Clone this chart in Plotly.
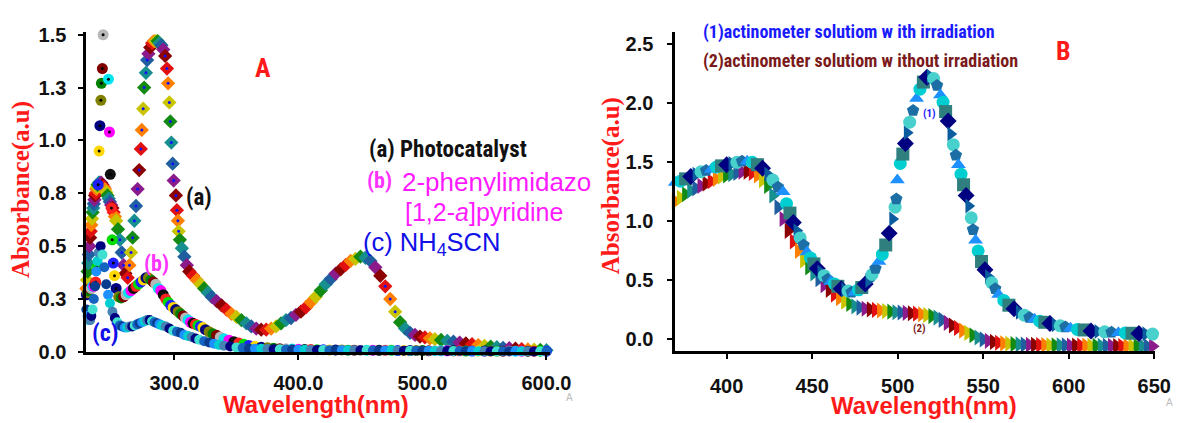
import plotly.graph_objects as go

# ---------------- Panel A data (wavelength nm, absorbance) ----------------
a_nm = [229, 229.5, 230, 230.5, 231, 231.5, 232, 232.5, 233, 233.5, 234, 234.5, 235, 235.5, 236, 236.5,
        237, 237.5, 238, 239, 240, 241, 242, 243, 244, 245, 246, 247, 248, 249, 250, 251, 252, 253,
        254.5, 256, 257.5, 259, 260.5,
        262.3, 263.7, 265, 266.3, 267.7, 269, 270.3, 271.6, 272.9, 273.7, 274.8, 275.6, 277, 278, 279,
        280.5, 282, 283.5, 285, 286.5, 288, 289.5, 291,
        292.5, 294, 294.9, 295.9, 296.7, 297.5, 298.6, 299.4, 301.2, 302, 302.8, 303.4, 304.4, 306,
        308, 310, 312, 315, 318, 321, 324, 327, 330, 334, 338, 342, 346, 350, 354, 358, 362, 366,
        370, 374, 378, 382, 386, 390, 394, 398, 402, 406, 410, 414, 418, 422, 426, 430, 434, 438,
        442, 446, 450, 454, 458, 462, 466, 470, 474, 478, 482, 486, 490, 494, 498, 502, 506, 510,
        515, 520, 525, 530, 535, 540, 545, 550, 555, 560, 565, 570, 575, 580, 585, 590, 595, 600]
a_abs = [0.30, 0.34, 0.38, 0.42, 0.46, 0.50, 0.54, 0.57, 0.60, 0.63, 0.66, 0.68, 0.70, 0.72, 0.74, 0.75,
         0.77, 0.78, 0.79, 0.80, 0.80, 0.80, 0.79, 0.78, 0.77, 0.755, 0.74, 0.725, 0.71, 0.695, 0.68, 0.66, 0.64, 0.62,
         0.58, 0.53, 0.47, 0.41, 0.37,
         0.35, 0.41, 0.47, 0.54, 0.62, 0.69, 0.77, 0.86, 0.96, 1.05, 1.15, 1.25, 1.32, 1.38, 1.41,
         1.44, 1.46, 1.47, 1.47, 1.47, 1.46, 1.45, 1.43,
         1.40, 1.34, 1.27, 1.18, 1.09, 0.99, 0.89, 0.81, 0.74, 0.67, 0.62, 0.57, 0.53, 0.49,
         0.45, 0.41, 0.38, 0.36, 0.34, 0.32, 0.30, 0.28, 0.26, 0.24, 0.22, 0.20, 0.18, 0.165, 0.15, 0.135, 0.12, 0.11,
         0.105, 0.105, 0.11, 0.12, 0.135, 0.15, 0.16, 0.175, 0.19, 0.21, 0.235, 0.26, 0.29, 0.32, 0.345, 0.37, 0.39, 0.41,
         0.43, 0.44, 0.45, 0.445, 0.43, 0.40, 0.36, 0.31, 0.25, 0.19, 0.14, 0.11, 0.09, 0.08, 0.072, 0.068, 0.064, 0.06,
         0.056, 0.052, 0.048, 0.044, 0.04, 0.036, 0.032, 0.028, 0.025, 0.022, 0.019, 0.017, 0.015, 0.013, 0.011, 0.01, 0.009, 0.008]

b_nm = [229, 230, 231, 232, 233, 234, 235, 236, 236.5, 237.5, 238.5, 239.3, 239.9, 240.7, 241.1, 241.9, 242.5,
        246.8, 247.6, 248.3, 249.2, 249.8, 250.7, 251.7, 253, 255, 257, 259, 261, 263, 265, 267, 269,
        271, 273, 275, 277, 279, 281, 283, 285, 287, 289, 291, 293, 295, 297, 299, 301, 303, 305, 307,
        309, 311, 313, 315, 317, 319, 321, 323, 325, 328, 331, 334, 337, 340, 344, 348, 352, 356,
        360, 365, 370, 375, 380, 385, 390, 395, 400, 405, 410, 415, 420, 425, 430, 435, 440, 445,
        450, 455, 460, 465, 470, 475, 480, 485, 490, 495, 500, 505, 510, 515, 520, 525, 530, 535,
        540, 545, 550, 555, 560, 565, 570, 575, 580, 585, 590, 595, 600]
b_abs = [0.27, 0.28, 0.29, 0.30, 0.30, 0.31, 0.31, 0.32, 0.33, 0.40, 0.79, 0.95, 1.07, 1.19, 1.27, 1.34, 1.50,
         1.29, 1.04, 0.84, 0.68, 0.53, 0.42, 0.36, 0.30, 0.26, 0.255, 0.26, 0.27, 0.28, 0.29, 0.30, 0.31,
         0.32, 0.33, 0.34, 0.35, 0.35, 0.34, 0.33, 0.32, 0.30, 0.29, 0.27, 0.25, 0.235, 0.22, 0.21, 0.20, 0.19, 0.18, 0.17,
         0.16, 0.15, 0.14, 0.135, 0.13, 0.125, 0.12, 0.115, 0.105, 0.095, 0.085, 0.078, 0.07, 0.062, 0.055, 0.048, 0.042, 0.036,
         0.03, 0.026, 0.022, 0.019, 0.017, 0.015, 0.014, 0.013, 0.012, 0.011, 0.011, 0.010, 0.010, 0.009, 0.009, 0.009, 0.008, 0.008,
         0.008, 0.008, 0.007, 0.007, 0.007, 0.007, 0.006, 0.006, 0.006, 0.006, 0.006, 0.005, 0.005, 0.005, 0.005, 0.005, 0.005, 0.004,
         0.004, 0.004, 0.004, 0.004, 0.004, 0.003, 0.003, 0.003, 0.003, 0.003, 0.003, 0.003, 0.003]

c_nm = [229, 230, 231, 232, 233, 234, 235, 236, 237, 238, 239, 240.5, 242, 243.5, 245, 246.5, 248, 250, 252, 254, 256, 258,
        260, 262, 264, 266, 268, 270, 272, 274, 276, 278, 280, 282, 284, 286, 288, 290, 293, 296, 299,
        302, 305, 308, 311, 314, 317, 320, 324, 328, 332, 336, 340, 345, 350, 355, 360, 365, 370, 375,
        380, 385, 390, 395, 400, 405, 410, 415, 420, 425, 430, 435, 440, 445, 450, 455, 460, 465, 470,
        475, 480, 485, 490, 495, 500, 505, 510, 515, 520, 525, 530, 535, 540, 545, 550, 555, 560, 565,
        570, 575, 580, 585, 590, 595, 600]
c_abs = [0.20, 0.17, 0.15, 0.15, 0.17, 0.20, 0.25, 0.31, 0.38, 0.43, 0.47, 0.50, 0.46, 0.40, 0.32, 0.27, 0.23, 0.19, 0.16, 0.14, 0.125, 0.12,
         0.115, 0.115, 0.12, 0.12, 0.125, 0.13, 0.135, 0.14, 0.145, 0.15, 0.15, 0.145, 0.14, 0.135, 0.13, 0.125, 0.12, 0.11, 0.10,
         0.095, 0.09, 0.08, 0.075, 0.07, 0.063, 0.057, 0.05, 0.044, 0.038, 0.033, 0.029, 0.025, 0.021, 0.018, 0.016, 0.015, 0.014, 0.013,
         0.012, 0.012, 0.011, 0.011, 0.010, 0.010, 0.009, 0.009, 0.009, 0.008, 0.008, 0.008, 0.007, 0.007, 0.007, 0.007, 0.006, 0.006, 0.006,
         0.006, 0.005, 0.005, 0.005, 0.005, 0.005, 0.005, 0.004, 0.004, 0.004, 0.004, 0.004, 0.004, 0.004, 0.003, 0.003, 0.003, 0.003, 0.003,
         0.003, 0.003, 0.003, 0.003, 0.002, 0.002, 0.002]

a_ticks = [300, 400, 500, 600]
a_tick_text = ["300.0", "400.0", "500.0", "600.0"]
a_yticks = [0, 0.25, 0.5, 0.75, 1.0, 1.25, 1.5]
a_ytick_text = ["0.0", "0.3", "0.5", "0.8", "1.0", "1.3", "1.5"]

# ---------------- Panel B data ----------------
irr_nm = [370, 373, 376, 379, 382, 385, 388, 391, 394, 397, 400, 403, 406, 409, 412, 415, 418, 421, 424, 427,
          430, 433, 435, 437, 439, 441, 443, 445, 447, 449, 451, 453, 455, 457, 459, 461, 463, 465, 467, 469,
          471, 473, 475, 477, 479, 481, 483, 485, 487, 489, 491, 493, 495, 497, 498.5, 499.2, 499.8, 501.5,
          503, 504.5, 505.5, 507, 509, 511, 513, 515, 517, 519, 521, 523, 525, 526.5, 528, 529.5, 531, 532.5,
          534, 535.5, 537, 538.5, 540, 541.5, 543, 544, 545.5, 547, 549, 551, 553, 555, 557, 559, 562, 565,
          568, 571, 574, 577, 580, 583, 586, 589, 592, 595, 598, 601, 605, 609, 613, 617, 621, 625, 629, 633,
          637, 641, 645, 649, 651]
irr_abs = [1.33, 1.34, 1.36, 1.38, 1.40, 1.42, 1.43, 1.44, 1.46, 1.47, 1.48, 1.49, 1.50, 1.51, 1.51, 1.50, 1.48, 1.45, 1.40, 1.35,
           1.29, 1.25, 1.15, 1.07, 0.99, 0.92, 0.86, 0.80, 0.74, 0.69, 0.64, 0.60, 0.57, 0.54, 0.51, 0.49, 0.47, 0.45, 0.43, 0.42,
           0.41, 0.40, 0.40, 0.42, 0.44, 0.47, 0.50, 0.55, 0.60, 0.66, 0.72, 0.80, 0.90, 1.02, 1.12, 1.19, 1.35, 1.49,
           1.57, 1.66, 1.75, 1.84, 1.94, 2.04, 2.12, 2.18, 2.22, 2.23, 2.21, 2.15, 2.07, 2.01, 1.93, 1.85, 1.74, 1.65,
           1.56, 1.48, 1.40, 1.31, 1.22, 1.13, 1.03, 0.93, 0.84, 0.75, 0.66, 0.59, 0.53, 0.48, 0.43, 0.38, 0.33, 0.29,
           0.26, 0.23, 0.205, 0.185, 0.17, 0.155, 0.145, 0.135, 0.125, 0.115, 0.105, 0.095, 0.085, 0.08, 0.072, 0.068, 0.064, 0.06, 0.057, 0.055,
           0.052, 0.05, 0.047, 0.045, 0.044]

dark_nm = [370, 373, 376, 379, 382, 385, 388, 391, 394, 397, 400, 403, 406, 409, 412, 415, 418, 421, 424, 427,
           430, 433, 436, 439, 442, 445, 448, 451, 454, 457, 460, 463, 466, 469, 472, 475, 478, 481, 484, 487,
           490, 493, 496, 499, 502, 505, 508, 511, 514, 517, 520, 523, 526, 529, 532, 535, 538, 541, 544, 547,
           550, 553, 556, 559, 562, 565, 568, 571, 574, 577, 580, 583, 586, 589, 592, 595, 598, 601, 604, 607,
           610, 613, 616, 619, 622, 625, 628, 631, 634, 637, 640, 643, 646, 649, 651]
dark_abs = [1.17, 1.20, 1.23, 1.26, 1.28, 1.30, 1.32, 1.34, 1.36, 1.38, 1.39, 1.40, 1.41, 1.42, 1.42, 1.41, 1.39, 1.35, 1.30, 1.22,
            1.12, 1.02, 0.92, 0.83, 0.75, 0.67, 0.61, 0.56, 0.51, 0.46, 0.42, 0.38, 0.35, 0.32, 0.30, 0.28, 0.27, 0.26, 0.255, 0.25,
            0.245, 0.24, 0.235, 0.23, 0.228, 0.225, 0.222, 0.218, 0.213, 0.207, 0.198, 0.185, 0.165, 0.14, 0.118, 0.097, 0.075, 0.055, 0.035, 0.016,
            0.0, -0.012, -0.021, -0.028, -0.033, -0.037, -0.040, -0.042, -0.044, -0.045, -0.046, -0.047, -0.048, -0.049, -0.05, -0.05, -0.051, -0.052, -0.052, -0.053,
            -0.053, -0.054, -0.054, -0.055, -0.055, -0.055, -0.056, -0.056, -0.056, -0.057, -0.057, -0.057, -0.058, -0.058, -0.058]

b_ticks = [400, 450, 500, 550, 600, 650]
b_yticks = [0.0, 0.5, 1.0, 1.5, 2.0, 2.5]
b_ytick_text = ["0.0", "0.5", "1.0", "1.5", "2.0", "2.5"]

# ---------------- styling ----------------
W, H = 1195, 423
def fx(p): return p / W
def fy(p): return 1 - p / H

RAINBOW = ["#FF7F00", "#C8C400", "#138A13", "#178F8F", "#1F5FA0", "#8B1A8B", "#8B0000", "#E01010"]
MIXED = ["#000080", "#808000", "#008000", "#800000", "#B8B8B8", "#00E5EE", "#FF00FF", "#111111",
         "#FF2020", "#00DD00", "#2020FF", "#FFD700"]
BLUES = ["#0A3D8F", "#1E90FF", "#00CED1", "#4682B4", "#000080", "#40E0D0", "#1565C0"]
IRR_COL = ["#1E90FF", "#00CED1", "#2F7F7F", "#000080", "#0A5C9E", "#48D1CC", "#1C6EA4"]
IRR_SYM = ["triangle-up", "circle", "square", "diamond", "triangle-right", "circle", "pentagon"]
RED = "#FF1A1A"
COND = "Roboto Condensed, Liberation Sans Narrow, DejaVu Sans Condensed, Arial Narrow, sans-serif"
SERIF = "Liberation Serif, Times New Roman, serif"
ARIAL = "Liberation Sans, Arial, sans-serif"


def cyc(pal, n):
    return [pal[i % len(pal)] for i in range(n)]


def steep(x, y, thr=0.05):
    xs, ys = [], []
    for i in range(len(y)):
        d1 = abs(y[i] - y[i - 1]) if i > 0 else 0
        d2 = abs(y[i + 1] - y[i]) if i < len(y) - 1 else 0
        if max(d1, d2) > thr:
            xs.append(x[i]); ys.append(y[i])
    return xs, ys


fig = go.Figure()

# Panel A
fig.add_trace(go.Scatter(x=a_nm, y=a_abs, mode="markers", xaxis="x", yaxis="y", cliponaxis=False,
                         marker=dict(symbol="diamond", size=11, color=cyc(RAINBOW, len(a_nm)), line=dict(width=0))))
ax_, ay_ = steep(a_nm, a_abs)
fig.add_trace(go.Scatter(x=ax_, y=ay_, mode="markers", xaxis="x", yaxis="y", cliponaxis=False,
                         marker=dict(symbol="circle", size=3, color="#1010FF")))
fig.add_trace(go.Scatter(x=b_nm, y=b_abs, mode="markers", xaxis="x", yaxis="y", cliponaxis=False,
                         marker=dict(symbol="circle", size=11, color=cyc(MIXED, len(b_nm)), line=dict(width=0))))
bx_, by_ = steep(b_nm, b_abs)
fig.add_trace(go.Scatter(x=bx_, y=by_, mode="markers", xaxis="x", yaxis="y", cliponaxis=False,
                         marker=dict(symbol="circle", size=3, color="#000000")))
fig.add_trace(go.Scatter(x=c_nm, y=c_abs, mode="markers", xaxis="x", yaxis="y", cliponaxis=False,
                         marker=dict(symbol="circle", size=10, color=cyc(BLUES, len(c_nm)), line=dict(width=0))))

# Panel B
fig.add_trace(go.Scatter(x=dark_nm, y=dark_abs, mode="markers", xaxis="x2", yaxis="y2", cliponaxis=False,
                         marker=dict(symbol="triangle-right", size=14, color=cyc(RAINBOW, len(dark_nm)), line=dict(width=0))))
fig.add_trace(go.Scatter(x=irr_nm, y=irr_abs, mode="markers", xaxis="x2", yaxis="y2", cliponaxis=False,
                         marker=dict(symbol=cyc(IRR_SYM, len(irr_nm)), size=13, color=cyc(IRR_COL, len(irr_nm)),
                                     line=dict(width=0))))

tickfont = dict(family=ARIAL, size=20, color="#111111", weight="bold")
axis_common = dict(showline=True, linewidth=3, linecolor="black", showgrid=False, zeroline=False,
                   ticks="outside", ticklen=5, tickwidth=1.5, tickcolor="black", tickfont=tickfont)

fig.update_layout(
    width=W, height=H, margin=dict(l=0, r=0, t=0, b=0),
    paper_bgcolor="white", plot_bgcolor="white", showlegend=False,
    xaxis=dict(domain=[fx(88), fx(560)], range=[229, 602.6], tickvals=a_ticks, ticktext=a_tick_text,
               anchor="y", ticklabelstandoff=6, **axis_common),
    yaxis=dict(domain=[fy(360), fy(25)], range=[0, 1.5136], tickvals=a_yticks, ticktext=a_ytick_text,
               anchor="x", ticklabelstandoff=8, **axis_common),
    xaxis2=dict(domain=[fx(688), fx(1177)], range=[370, 650.6], tickvals=b_ticks,
                anchor="y2", ticklabelstandoff=10, **axis_common),
    yaxis2=dict(domain=[fy(359), fy(25)], range=[-0.097, 2.605], tickvals=b_yticks, ticktext=b_ytick_text,
                anchor="x2", ticklabelstandoff=10, **axis_common),
)

ann = []
def txt(t, x, y, size, color, family=COND, xanchor="center", angle=0, weight="normal"):
    ann.append(dict(text=t, x=fx(x), y=fy(y), xref="paper", yref="paper", showarrow=False,
                    xanchor=xanchor, yanchor="middle", textangle=angle,
                    font=dict(family=family, size=size, color=color, weight=weight)))

# Panel A texts
txt("A", 268, 63, 26, RED, weight="bold")
txt("(a) Photocatalyst", 374, 148, 23, "#111111", xanchor="left", weight="bold")
txt("(b)", 372, 181, 22, "#FF33FF", xanchor="left", weight="bold")
txt("2-phenylimidazo", 408, 182, 26, "#FF1AFF", family=ARIAL, xanchor="left")
txt("[1,2-<i>a</i>]pyridine", 411, 214, 25, "#FF1AFF", family=ARIAL, xanchor="left")
txt("(c) NH<sub>4</sub>SCN", 368, 247, 25.5, "#1010E8", family=ARIAL, xanchor="left")
txt("(a)", 203, 198, 23, "#111111", weight="bold")
txt("(b)", 159, 268, 22, "#FF33FF", weight="bold")
txt("(c)", 107, 340, 24, "#1010E8", weight="bold")
txt("Absorbance(a.u)", 22, 190, 25, RED, family=SERIF, angle=-90, weight="bold")
txt("Wavelength(nm)", 322, 415, 24, RED, family=ARIAL, weight="bold")
txt("A", 580, 408, 10, "#BBBBBB", family=ARIAL)
# Panel B texts
txt("(1)actinometer solutiom w ith irradiation", 714, 25, 18, "#1A1AFF", xanchor="left", weight="bold")
txt("(2)actinometer solutiom w ithout irradiation", 714, 55, 18, "#7A1A1A", xanchor="left", weight="bold")
txt("B", 1083, 45, 26, RED, weight="bold")
txt("(1)", 947, 110, 11, "#1A1AFF", weight="bold")
txt("(2)", 937, 336, 11, "#7A1A1A", weight="bold")
txt("Absorbance(a.u)", 622, 186, 25, RED, family=SERIF, angle=-90, weight="bold")
txt("Wavelength(nm)", 941, 416, 24, RED, family=ARIAL, weight="bold")
txt("A", 1191, 413, 10, "#BBBBBB", family=ARIAL)

fig.update_layout(annotations=ann)
fig.write_html("out.html")
